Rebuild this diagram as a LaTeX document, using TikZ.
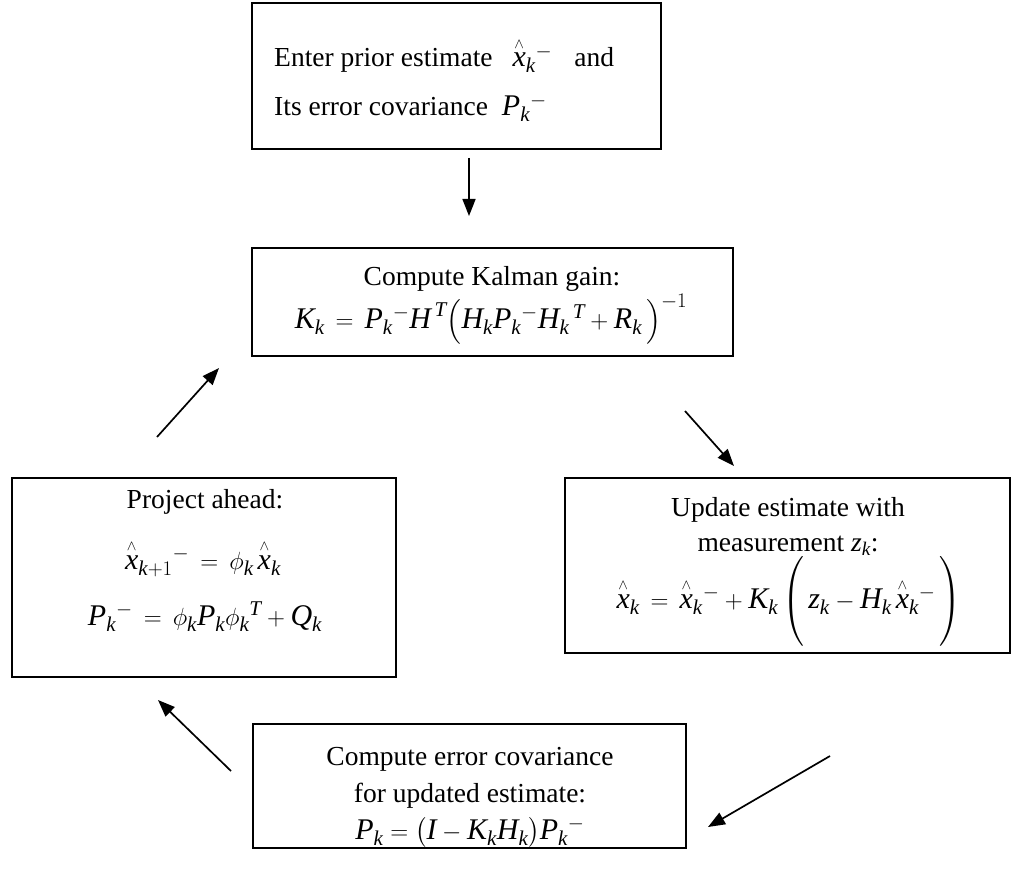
\documentclass[tikz,border=0pt]{standalone}
\usepackage{amsmath}
\usepackage{fontspec}
\setmainfont{Liberation Serif}
\usetikzlibrary{arrows.meta}
\newcommand\iv[1]{\text{\itshape #1}}
\newcommand\xh{\overset{\scriptscriptstyle\wedge}{\iv{x}}}
\newcommand\sk{_{\iv{k}}}
\begin{document}
\begin{tikzpicture}[x=1pt,y=-1pt,
  box/.style={draw,line width=1.8pt,inner sep=0pt},
  txt/.style={anchor=base,inner sep=0pt,font=\fontsize{27.5}{31}\selectfont},
  mth/.style={anchor=base,inner sep=0pt,font=\fontsize{30}{33}\selectfont},
  arr/.style={line width=1.7pt,-{Triangle[length=17pt,width=13pt]}}]
\useasboundingbox (0,0) rectangle (1015,869);
% boxes
\node[box,minimum width=409pt,minimum height=146pt] (b1) at (456.5,76) {};
\node[box,minimum width=481pt,minimum height=108pt] (b2) at (492.5,302) {};
\node[box,minimum width=384pt,minimum height=199pt] (b3) at (204,577.5) {};
\node[box,minimum width=445pt,minimum height=175pt] (b4) at (787.5,565.5) {};
\node[box,minimum width=433pt,minimum height=124pt] (b5) at (469.5,786) {};
% box 1
\node[txt,anchor=base west] (t11) at (274,67) {Enter prior estimate\hspace{20pt}{\fontsize{30}{33}\selectfont$\xh\sk{}^{-}$}\hspace{22pt}and};
\node[txt,anchor=base west] (t12) at (274,116) {Its error covariance\hspace{14pt}{\fontsize{30}{33}\selectfont$\iv{P}\sk{}^{-}$}};
% box 2
\node[txt] (t21) at (492,286) {Compute Kalman gain:};
\node[mth] (t22) at (491,328) {$\iv{K}\sk \,=\, \iv{P}\sk{}^{-}\iv{H}^{\,\iv{T}}\Big(\iv{H}\sk\iv{P}\sk{}^{-}\iv{H}\sk{}^{\,\iv{T}} + \iv{R}\sk\,\Big)^{-1}$};
% box 3
\node[txt] (t31) at (205,508) {Project ahead:};
\node[mth] (t32) at (203,569) {$\xh_{\iv{k}+1}{}^{-} \,=\, \phi\sk\,\xh\sk$};
\node[mth] (t33) at (205,625) {$\iv{P}\sk{}^{-} \,=\, \phi\sk\iv{P}\sk\phi\sk{}^{\iv{T}} + \iv{Q}\sk$};
% box 4
\node[txt] (t41) at (788,516) {Update estimate with};
\node[txt] (t42) at (788,551) {measurement \iv{z}$\sk$:};
\node[mth] (t43) at (789,608) {$\xh\sk \,=\, \xh\sk{}^{-} + \iv{K}\sk\left(\rule[-37pt]{0pt}{71pt}\,\iv{z}\sk - \iv{H}\sk\,\xh\sk{}^{-}\,\right)$};
% box 5
\node[txt] (t51) at (470,765) {Compute error covariance};
\node[txt] (t52) at (470,802) {for updated estimate:};
\node[mth] (t53) at (470,839) {$\iv{P}\sk = \big(\iv{I} - \iv{K}\sk\iv{H}\sk\big)\iv{P}\sk{}^{-}$};
% arrows
\coordinate (a1s) at (469,158); \coordinate (a1e) at (469,216);
\coordinate (a2s) at (157,437); \coordinate (a2e) at (219,368);
\coordinate (a3s) at (685,411); \coordinate (a3e) at (734,466);
\coordinate (a4s) at (830,756); \coordinate (a4e) at (708,827);
\coordinate (a5s) at (231,771); \coordinate (a5e) at (158,700);
\draw[arr] (a1s) -- (a1e);
\draw[arr] (a2s) -- (a2e);
\draw[arr] (a3s) -- (a3e);
\draw[arr] (a4s) -- (a4e);
\draw[arr] (a5s) -- (a5e);
\end{tikzpicture}
\end{document}
